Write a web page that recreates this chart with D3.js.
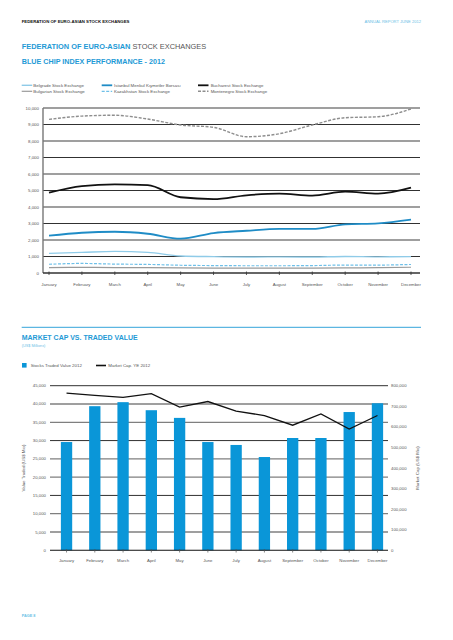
<!DOCTYPE html>
<html><head><meta charset="utf-8">
<script src="https://cdn.jsdelivr.net/npm/d3@7"></script>
<style>body{margin:0;background:#fff}svg{display:block}text{font-family:"Liberation Sans",Arial,sans-serif}</style>
</head><body><svg id="c" width="453" height="640"></svg>
<script>
// ---------- data ----------
const months = ["January","February","March","April","May","June","July","August","September","October","November","December"];
const indexTicks = [0,1000,2000,3000,4000,5000,6000,7000,8000,9000,10000];
const belgrade   = [1190,1250,1310,1250,1030,990,970,980,970,1000,980,990];
const bulgarian  = [330,340,330,320,310,300,290,290,300,310,320,350];
const istanbul   = [2260,2440,2500,2380,2080,2420,2560,2670,2670,2950,3010,3230];
const kazakhstan = [530,580,540,520,470,450,440,440,450,480,480,520];
const bucharest  = [4870,5270,5370,5330,4590,4480,4710,4810,4690,4930,4810,5170];
const montenegro = [9310,9510,9560,9330,8970,8830,8260,8440,8970,9410,9470,9940];
const seriesNames = ["Belgrade Stock Exchange","Bulgarian Stock Exchange","Istanbul Menkul Kıymetler Borsası","Kazakhstan Stock Exchange","Bucharest Stock Exchange","Montenegro Stock Exchange"];

const tradedValue = [29600,39400,40500,38300,36200,29600,28800,25500,30700,30700,37800,40200];
const marketCap   = [764000,753000,743000,761000,696000,723000,676000,655000,608000,663000,589000,655000];
const valueTicks  = [0,5000,10000,15000,20000,25000,30000,35000,40000,45000];
const capTicks    = [0,100000,200000,300000,400000,500000,600000,700000,800000];

// ---------- drawing ----------
const svg = d3.select("#c");
const BLUE = "#1e9ad6", LBLUE = "#6cbfe6", TXT = "#555";
const fmt = d3.format(",");

// header
svg.append("text").attr("x",21.7).attr("y",22.5).attr("font-size",4.3).attr("font-weight","bold").attr("fill","#111").text("FEDERATION OF EURO-ASIAN STOCK EXCHANGES");
svg.append("text").attr("x",421).attr("y",22.5).attr("font-size",4.1).attr("text-anchor","end").attr("fill",LBLUE).text("ANNUAL REPORT JUNE 2012");
const t1 = svg.append("text").attr("x",21.7).attr("y",48.5).attr("font-size",7.4);
t1.append("tspan").attr("font-weight","bold").attr("fill",BLUE).text("FEDERATION OF EURO-ASIAN");
t1.append("tspan").attr("fill","#555").text(" STOCK EXCHANGES");
svg.append("text").attr("x",21.7).attr("y",64.3).attr("font-size",7.2).attr("font-weight","bold").attr("fill",BLUE).text("BLUE CHIP INDEX PERFORMANCE - 2012");

// ---------- chart 1 ----------
const x1 = d3.scalePoint().domain(months).range([49,411]);
const y1 = d3.scaleLinear().domain([0,10000]).range([273,108]);
const g1 = svg.append("g");
g1.selectAll("line.grid").data(indexTicks.filter(d=>d>0)).join("line")
  .attr("x1",43).attr("x2",420).attr("y1",d=>y1(d)).attr("y2",d=>y1(d))
  .attr("stroke",d=> (d/1000)%2===0 ? "#7f7f7f" : "#1a1a1a")
  .attr("stroke-width",d=> (d/1000)%2===0 ? 1.4 : 0.9);
g1.append("line").attr("x1",43).attr("x2",43).attr("y1",108).attr("y2",273).attr("stroke","#777").attr("stroke-width",1.4);
g1.append("line").attr("x1",43).attr("x2",420).attr("y1",273).attr("y2",273).attr("stroke","#333").attr("stroke-width",1.3);
g1.selectAll("text.yl").data(indexTicks).join("text")
  .attr("x",39).attr("y",d=>y1(d)+1.5).attr("text-anchor","end").attr("font-size",4.4).attr("fill",TXT).text(d=>fmt(d));
g1.selectAll("line.xt").data(months).join("line")
  .attr("x1",d=>x1(d)).attr("x2",d=>x1(d)).attr("y1",271.5).attr("y2",275).attr("stroke","#333").attr("stroke-width",0.8);
g1.selectAll("text.xl").data(months).join("text")
  .attr("x",d=>x1(d)).attr("y",285.5).attr("text-anchor","middle").attr("font-size",4.3).attr("fill",TXT).text(d=>d);

const styles = [
  {data:belgrade,   color:"#8fcbe8", w:1.4, dash:null},
  {data:bulgarian,  color:"#9a9a9a", w:1.2, dash:null},
  {data:istanbul,   color:"#1f8cc6", w:1.8, dash:null},
  {data:kazakhstan, color:"#6fc0e8", w:1.2, dash:"3,1.5"},
  {data:bucharest,  color:"#111",    w:1.8, dash:null},
  {data:montenegro, color:"#8e8e8e", w:1.4, dash:"3,1.5"}
];
const line1 = d3.line().x((d,i)=>x1(months[i])).y(d=>y1(d)).curve(d3.curveMonotoneX);
styles.forEach(s=>{
  g1.append("path").datum(s.data).attr("d",line1).attr("fill","none")
    .attr("stroke",s.color).attr("stroke-width",s.w).attr("stroke-dasharray",s.dash);
});
// legend 1
const legCols = [[21.7,33.3],[101.7,114],[198,210.7]];
const legRows = [85.3,91.3];
styles.forEach((s,k)=>{
  const col = Math.floor(k/2), row = k%2;
  const [lx,tx] = legCols[col], ly = legRows[row];
  svg.append("line").attr("x1",lx).attr("x2",lx+10.5).attr("y1",ly).attr("y2",ly)
    .attr("stroke",s.color).attr("stroke-width",s.w).attr("stroke-dasharray",s.dash);
  svg.append("text").attr("x",tx).attr("y",ly+1.5).attr("font-size",4.4).attr("fill",TXT).text(seriesNames[k]);
});

// ---------- section 2 ----------
svg.append("line").attr("x1",21.7).attr("x2",421).attr("y1",327.3).attr("y2",327.3).attr("stroke",BLUE).attr("stroke-width",0.9);
svg.append("text").attr("x",21.7).attr("y",340).attr("font-size",7.0).attr("font-weight","bold").attr("fill",BLUE).text("MARKET CAP VS. TRADED VALUE");
svg.append("text").attr("x",21.7).attr("y",346.8).attr("font-size",3.8).attr("fill",LBLUE).text("(US$ Millions)");
svg.append("rect").attr("x",22).attr("y",363).attr("width",4.6).attr("height",4.6).attr("fill","#0a96d8");
svg.append("text").attr("x",30.7).attr("y",367).attr("font-size",4.4).attr("fill",TXT).text("Stocks Traded Value 2012");
svg.append("line").attr("x1",96).attr("x2",106).attr("y1",365.5).attr("y2",365.5).attr("stroke","#111").attr("stroke-width",1.6);
svg.append("text").attr("x",108.3).attr("y",367).attr("font-size",4.4).attr("fill",TXT).text("Market Cap. YE 2012");

const x2 = d3.scaleBand().domain(months).range([52.4,391.6]).paddingInner(0.6).paddingOuter(0.3);
const y2 = d3.scaleLinear().domain([0,45000]).range([550.3,385.7]);
const y2r = d3.scaleLinear().domain([0,800000]).range([550.3,385.7]);
const g2 = svg.append("g");
g2.selectAll("line.grid").data(valueTicks.filter(d=>d>0)).join("line")
  .attr("x1",50).attr("x2",388).attr("y1",d=>y2(d)).attr("y2",d=>y2(d))
  .attr("stroke",d=> (d/5000)%3===0 ? "#1a1a1a" : "#7f7f7f")
  .attr("stroke-width",d=> (d/5000)%3===0 ? 0.9 : 1.3);
g2.selectAll("rect.bar").data(tradedValue).join("rect")
  .attr("x",(d,i)=>x2(months[i])).attr("width",x2.bandwidth())
  .attr("y",d=>y2(d)).attr("height",d=>550.3-y2(d)).attr("fill","#0a96d8");
g2.append("line").attr("x1",50).attr("x2",388).attr("y1",550.3).attr("y2",550.3).attr("stroke","#111").attr("stroke-width",1.1);
g2.selectAll("line.xt").data(months).join("line")
  .attr("x1",d=>x2(d)+x2.bandwidth()/2).attr("x2",d=>x2(d)+x2.bandwidth()/2).attr("y1",549).attr("y2",552.5).attr("stroke","#555").attr("stroke-width",0.7);
const line2 = d3.line().x((d,i)=>x2(months[i])+x2.bandwidth()/2).y(d=>y2r(d));
g2.append("path").datum(marketCap).attr("d",line2).attr("fill","none").attr("stroke","#111").attr("stroke-width",1.3);
g2.selectAll("text.yl").data(valueTicks).join("text")
  .attr("x",46).attr("y",d=>y2(d)+1.5).attr("text-anchor","end").attr("font-size",4.3).attr("fill",TXT).text(d=>fmt(d));
g2.selectAll("text.yr").data(capTicks).join("text")
  .attr("x",391).attr("y",d=>y2r(d)+1.5).attr("font-size",4.3).attr("fill",TXT).text(d=>fmt(d));
g2.selectAll("text.xl").data(months).join("text")
  .attr("x",d=>x2(d)+x2.bandwidth()/2).attr("y",561.5).attr("text-anchor","middle").attr("font-size",4.3).attr("fill",TXT).text(d=>d);
g2.append("text").attr("transform","translate(24.5,468) rotate(-90)").attr("text-anchor","middle").attr("font-size",4.4).attr("fill",TXT).text("Value Traded (US$ Mio)");
g2.append("text").attr("transform","translate(419,468) rotate(-90)").attr("text-anchor","middle").attr("font-size",4.4).attr("fill",TXT).text("Market Cap (US$ Mio)");

svg.append("text").attr("x",21.7).attr("y",616.5).attr("font-size",3.8).attr("font-weight","bold").attr("fill",LBLUE).text("PAGE 8");
</script></body></html>
